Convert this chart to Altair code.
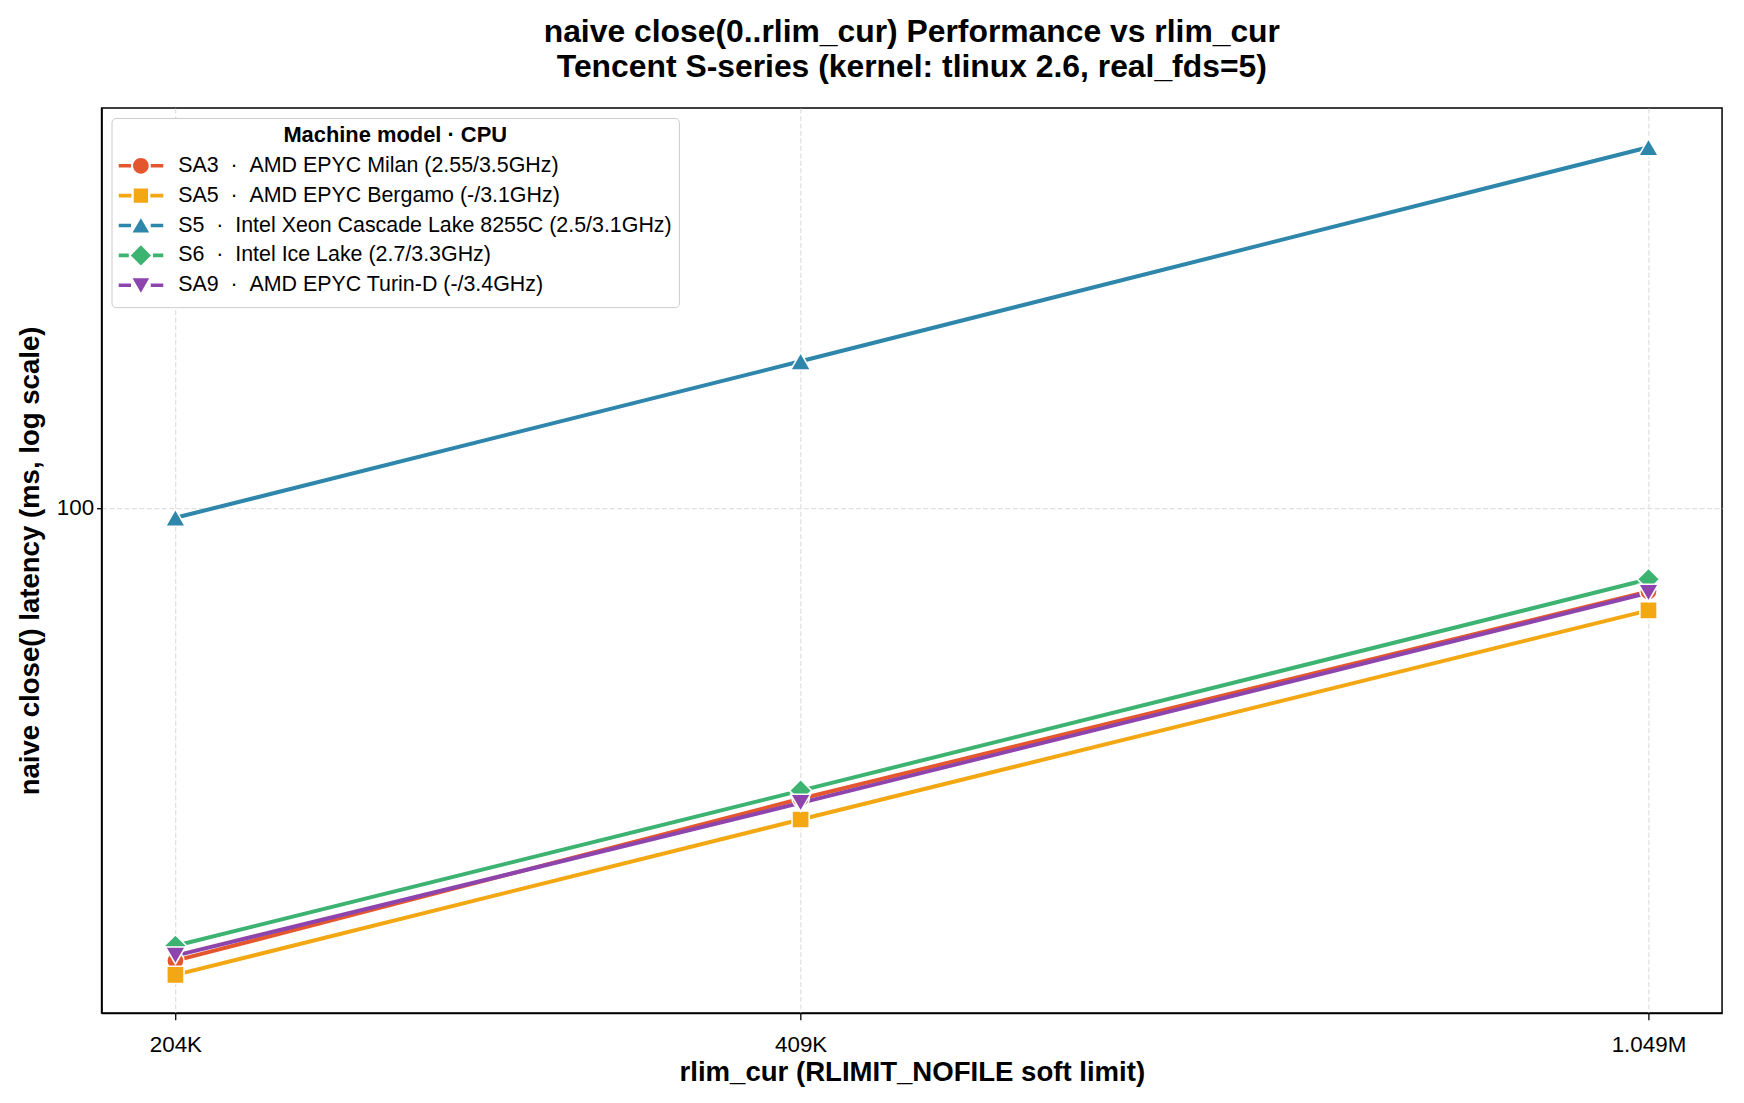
import altair as alt
import pandas as pd

# ---- data ----
rlim = [204800, 409600, 1048576]
tick_labels = ["204K", "409K", "1.049M"]
models = ["SA3", "SA5", "S5", "S6", "SA9"]
cpus = [
    "AMD EPYC Milan (2.55/3.5GHz)",
    "AMD EPYC Bergamo (-/3.1GHz)",
    "Intel Xeon Cascade Lake 8255C (2.5/3.1GHz)",
    "Intel Ice Lake (2.7/3.3GHz)",
    "AMD EPYC Turin-D (-/3.4GHz)",
]
sa3 = [12.8, 26.7, 68.4]
sa5 = [12.0, 24.3, 62.8]
s5 = [95.6, 194.5, 514.0]
s6 = [13.7, 27.7, 72.3]
sa9 = [13.1, 26.2, 68.0]
series = [sa3, sa5, s5, s6, sa9]

colors = ["#E4572E", "#F3A712", "#2E86AB", "#3CB371", "#8E44AD"]
shapes = ["circle", "square", "triangle-up", "diamond", "triangle-down"]
sizes = [300, 300, 400, 500, 400]

NB = "\u00a0"
labels = [f"{m}{NB}{NB}\u00b7{NB}{NB}{c}" for m, c in zip(models, cpus)]

rows = []
for lab, vals in zip(labels, series):
    for x, v in zip(rlim, vals):
        rows.append({"label": lab, "rlim": x, "latency": v})
df = pd.DataFrame(rows)

# legend symbols: line segments + marker (unit coordinates)
seg = "M-1,-0.08 L-{g},-0.08 L-{g},0.08 L-1,0.08 Z M{g},-0.08 L1,-0.08 L1,0.08 L{g},0.08 Z"
legend_paths = [
    seg.format(g=0.44) + " M0.35,0 A0.35,0.35 0 1,1 -0.35,0 A0.35,0.35 0 1,1 0.35,0 Z",
    seg.format(g=0.42) + " M-0.32,-0.32 L0.32,-0.32 L0.32,0.32 L-0.32,0.32 Z",
    seg.format(g=0.44) + " M0,-0.33 L0.37,0.31 L-0.37,0.31 Z",
    seg.format(g=0.54) + " M0,-0.45 L0.45,0 L0,0.45 L-0.45,0 Z",
    seg.format(g=0.44) + " M0,0.33 L0.37,-0.31 L-0.37,-0.31 Z",
]

FONT = "Liberation Sans"
W, H = 1628, 909

lab_expr = " : ".join(
    [f"datum.value < {int((rlim[i] + rlim[i + 1]) / 2)} ? '{tick_labels[i]}'" for i in range(len(rlim) - 1)]
    + [f"'{tick_labels[-1]}'"]
)

x_enc = alt.X(
    "rlim:Q",
    scale=alt.Scale(type="log", domain=[188700, 1137700], nice=False, zero=False),
    axis=alt.Axis(
        values=rlim,
        labelExpr=lab_expr,
        title="rlim_cur (RLIMIT_NOFILE soft limit)",
        titleFontSize=27.7,
        titleFontWeight="bold",
        titleX=W / 2,
        titleY=60,
        titleBaseline="middle",
        titleAlign="center",
        labelFontSize=22.5,
        labelPadding=14,
        tickSize=7,
        grid=True,
    ),
)
y_enc = alt.Y(
    "latency:Q",
    scale=alt.Scale(type="log", domain=[10.1, 614], nice=False, zero=False),
    axis=alt.Axis(
        values=[100],
        format="d",
        title="naive close() latency (ms, log scale)",
        titleFontSize=27.7,
        titleFontWeight="bold",
        titleAngle=270,
        titleX=-71,
        titleY=H / 2,
        titleBaseline="middle",
        titleAlign="center",
        labelFontSize=22.5,
        labelPadding=3,
        tickSize=5,
        grid=True,
    ),
)

color_sc = alt.Scale(domain=labels, range=colors)

lines = alt.Chart(df).mark_line(strokeWidth=4).encode(
    x=x_enc,
    y=y_enc,
    color=alt.Color("label:N", scale=color_sc, legend=None),
    detail="label:N",
)

points = alt.Chart(df).mark_point(filled=True, opacity=1, stroke="white", strokeWidth=1.6).encode(
    x=x_enc,
    y=y_enc,
    color=alt.Color("label:N", scale=color_sc, legend=None),
    shape=alt.Shape("label:N", scale=alt.Scale(domain=labels, range=shapes), legend=None),
    size=alt.Size("label:N", scale=alt.Scale(type="ordinal", domain=labels, range=sizes), legend=None),
)

legend_props = dict(
    title="Machine model \u00b7 CPU",
    orient="top-left",
    offset=10,
    padding=7,
    strokeColor="#cccccc",
    fillColor="white",
    cornerRadius=4,
    titleFont=FONT,
    titleFontSize=22,
    titleFontWeight="bold",
    titleColor="black",
    titleAnchor="middle",
    titleAlign="center",
    titleLimit=0,
    titlePadding=4,
    labelFont=FONT,
    labelFontSize=21.5,
    labelColor="black",
    labelOffset=15,
    labelLimit=0,
    symbolSize=2025,
    symbolStrokeWidth=0,
    symbolOpacity=1,
    clipHeight=30,
    rowPadding=0,
)

legend_layer = alt.Chart(df).transform_filter("false").mark_point(filled=True).encode(
    x=x_enc,
    y=y_enc,
    color=alt.Color("label:N", scale=color_sc, legend=alt.Legend(**legend_props)),
    shape=alt.Shape(
        "label:N",
        scale=alt.Scale(domain=labels, range=legend_paths),
        legend=alt.Legend(**legend_props),
    ),
)

chart = (
    alt.layer(lines, points, legend_layer)
    .resolve_scale(color="independent", shape="independent", size="independent")
    .properties(
        width=W,
        height=H,
        autosize=alt.AutoSizeParams(type="none"),
        padding={"left": 94, "top": 98, "right": 14, "bottom": 88},
        title=alt.Title(
            ["naive close(0..rlim_cur) Performance vs rlim_cur", "Tencent S-series (kernel: tlinux 2.6, real_fds=5)"],
            fontSize=32,
            fontWeight="bold",
            font=FONT,
            color="black",
            anchor="middle",
            frame="group",
            lineHeight=35,
            offset=24,
        ),
    )
    .configure(font=FONT, background="white")
    .configure_view(stroke="black", strokeWidth=1.5)
    .configure_axis(
        labelFont=FONT,
        titleFont=FONT,
        labelColor="black",
        titleColor="black",
        domainColor="black",
        domainWidth=1.5,
        tickColor="black",
        tickWidth=1.3,
        gridColor="#d9d9d9",
        gridDash=[5, 2.5],
        gridWidth=1,
    )
)

chart.save("out.html", embed_options={"renderer": "svg", "actions": False})
